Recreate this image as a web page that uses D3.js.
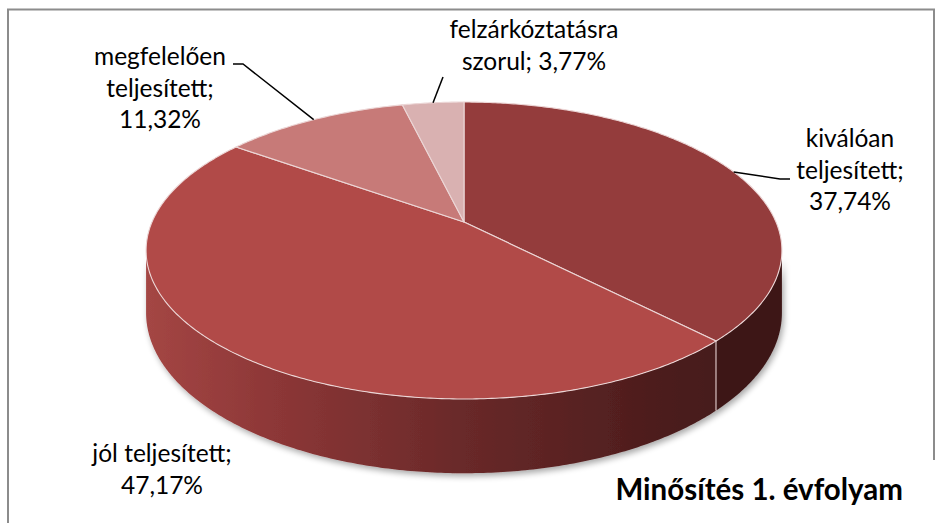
<!DOCTYPE html>
<html>
<head>
<meta charset="utf-8">
<script src="https://cdn.jsdelivr.net/npm/d3@7"></script>
<style>
  body { margin: 0; background: #fff; }
  svg { display: block; }
  text { font-family: Lato, "Open Sans", sans-serif; fill: #000; }
</style>
</head>
<body>
<svg id="chart" width="942" height="523"></svg>
<script>
// data
const categories = ["kiválóan teljesített", "jól teljesített", "megfelelően teljesített", "felzárkóztatásra szorul"]
const values = [37.74, 47.17, 11.32, 3.77]
const topColors = ["#943c3c", "#b14a48", "#c77a78", "#d9b1b1"]
const chartTitle = "Minősítés 1. évfolyam"

// how each label is broken into lines, and where it sits
const labelBreaks = [
    ["kiválóan", "teljesített;", "{v}"],
    ["jól teljesített;", "{v}"],
    ["megfelelően", "teljesített;", "{v}"],
    ["felzárkóztatásra", "szorul; {v}"]
]
const labelPos = [
    { x: 850, y: 147, elbow: [[780, 179], [790, 179]] },
    { x: 162, y: 462, elbow: null },
    { x: 160, y: 65, elbow: [[243, 64], [233, 64]] },
    { x: 534, y: 38, elbow: [[443, 77]] }
]

const width = 942, height = 523
const cx = 464, cy = 222        // projected centre of the pie
const sx = 312, sy = 143        // radii before perspective
const k = 0.192                 // perspective strength
const depth = 60                // thickness of the slab

const svg = d3.select("#chart")

// projection of a point of the disc (angle clockwise from 12 o'clock)
function project(theta, r, h) {
    const u = Math.sin(theta) * r
    const v = -Math.cos(theta) * r
    const w = 1 - k * v
    return [cx + sx * u / w, cy + (sy * v + depth * h) / w]
}

const fmt = v => d3.format(".2f")(v).replace(".", ",") + "%"
const color = d3.scaleOrdinal(categories, topColors)

const pie = d3.pie().sort(null).value(d => d.value)
const arcs = pie(categories.map((c, i) => ({ name: c, value: values[i], i: i })))

const line = d3.line()

function rimPoints(a0, a1, h) {
    const n = Math.max(2, Math.ceil((a1 - a0) / 0.01))
    return d3.range(n + 1).map(j => project(a0 + (a1 - a0) * j / n, 1, h))
}

const defs = svg.append("defs")

const grad = defs.append("linearGradient")
    .attr("id", "sideGrad")
    .attr("gradientUnits", "userSpaceOnUse")
    .attr("x1", cx - 318).attr("x2", cx + 318)
    .attr("y1", 0).attr("y2", 0)
grad.selectAll("stop")
    .data([[0, "#a44644"], [0.2, "#8d3737"], [0.5, "#692929"], [0.8, "#4d1d1d"], [1, "#3e1818"]])
    .join("stop")
    .attr("offset", d => d[0])
    .attr("stop-color", d => d[1])

const shadow = defs.append("filter")
    .attr("id", "shadow")
    .attr("x", "-10%").attr("y", "-10%")
    .attr("width", "120%").attr("height", "130%")
shadow.append("feGaussianBlur").attr("in", "SourceAlpha").attr("stdDeviation", 3)
shadow.append("feOffset").attr("dx", 2).attr("dy", 3).attr("result", "b")
shadow.append("feComponentTransfer").append("feFuncA").attr("type", "linear").attr("slope", 0.35)
const merge = shadow.append("feMerge")
merge.append("feMergeNode")
merge.append("feMergeNode").attr("in", "SourceGraphic")

// frame
svg.append("path")
    .attr("d", line([[8, 523], [8, 9.5], [934, 9.5], [934, 460]]))
    .attr("fill", "none")
    .attr("stroke", "#8c8c8c")
    .attr("stroke-width", 2)

// visible part of the side: where the rim faces the viewer
const visFrom = Math.acos(-k), visTo = 2 * Math.PI - Math.acos(-k)

const sideG = svg.append("g").attr("filter", "url(#shadow)")
sideG.selectAll("path")
    .data(arcs.filter(d => d.endAngle > visFrom && d.startAngle < visTo))
    .join("path")
    .attr("d", d => {
        const a0 = Math.max(d.startAngle, visFrom), a1 = Math.min(d.endAngle, visTo)
        const pts = rimPoints(a0, a1, 0).concat(rimPoints(a0, a1, 1).reverse())
        return line(pts) + "Z"
    })
    .attr("fill", d => d.index === 0 ? "#3d1818" : "url(#sideGrad)")
    .attr("stroke", "none")

// light seams on the side
sideG.selectAll("line")
    .data(arcs.filter(d => d.startAngle > visFrom && d.startAngle < visTo))
    .join("line")
    .attr("x1", d => project(d.startAngle, 1, 0)[0])
    .attr("y1", d => project(d.startAngle, 1, 0)[1])
    .attr("x2", d => project(d.startAngle, 1, 1)[0])
    .attr("y2", d => project(d.startAngle, 1, 1)[1])
    .attr("stroke", "#d8c0c0")
    .attr("stroke-width", 1.2)

// top face
svg.append("g")
    .selectAll("path")
    .data(arcs)
    .join("path")
    .attr("d", d => line([project(0, 0, 0)].concat(rimPoints(d.startAngle, d.endAngle, 0))) + "Z")
    .attr("fill", d => color(d.data.name))
    .attr("stroke", "#ecd6d6")
    .attr("stroke-width", 1.1)
    .attr("stroke-linejoin", "round")

// leader lines
svg.append("g")
    .selectAll("path")
    .data(arcs.filter(d => labelPos[d.index].elbow))
    .join("path")
    .attr("d", d => line([project((d.startAngle + d.endAngle) / 2, 1, 0)].concat(labelPos[d.index].elbow)))
    .attr("fill", "none")
    .attr("stroke", "#000")
    .attr("stroke-width", 1.5)

// labels
const lab = svg.append("g")
    .selectAll("text")
    .data(arcs)
    .join("text")
    .attr("text-anchor", "middle")
    .style("font-size", "24.5px")
    .attr("x", d => labelPos[d.index].x)
    .attr("y", d => labelPos[d.index].y)
lab.selectAll("tspan")
    .data(d => labelBreaks[d.index].map(s => ({ s: s.replace("{v}", fmt(d.value)), x: labelPos[d.index].x })))
    .join("tspan")
    .attr("x", t => t.x)
    .attr("dy", (t, j) => j ? 31.5 : 0)
    .text(t => t.s)

svg.append("text")
    .attr("x", 903)
    .attr("y", 500)
    .attr("text-anchor", "end")
    .style("font-size", "29.5px")
    .style("font-weight", "bold")
    .text(chartTitle)
</script>
</body>
</html>
